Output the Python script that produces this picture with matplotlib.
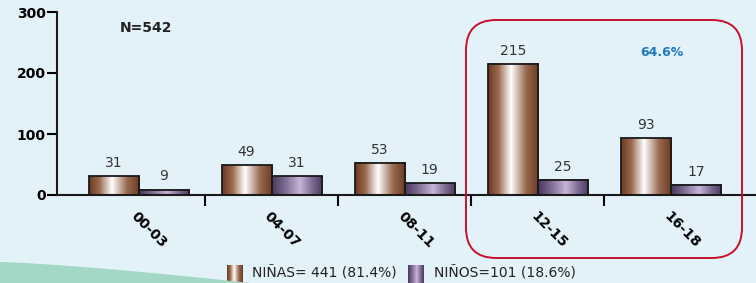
import numpy as np
import matplotlib
matplotlib.use("Agg")
import matplotlib.pyplot as plt
from matplotlib.colors import LinearSegmentedColormap
from matplotlib.patches import Rectangle, FancyBboxPatch, Polygon

categories = ["00-03", "04-07", "08-11", "12-15", "16-18"]
ninas = [31, 49, 53, 215, 93]
ninos = [9, 31, 19, 25, 17]
legend_labels = ["NIÑAS= 441 (81.4%)", "NIÑOS=101 (18.6%)"]
total_label = "N=542"
highlight_label = "64.6%"

BG = "#e3f2f8"
brown_cmap = LinearSegmentedColormap.from_list(
    "brown", [(0, "#6a3a22"), (0.2, "#9a6a50"), (0.45, "#ffffff"), (0.75, "#9a6a50"), (1, "#6a3a22")])
purple_cmap = LinearSegmentedColormap.from_list(
    "purple", [(0, "#4a3a5c"), (0.25, "#7d6a92"), (0.55, "#c8b4d8"), (0.8, "#7d6a92"), (1, "#4a3a5c")])
grad = np.linspace(0, 1, 64).reshape(1, -1)

W, H = 756, 283
fig = plt.figure(figsize=(W / 100, H / 100), dpi=100)
fig.patch.set_facecolor(BG)

# decorative green swoosh bottom-left
xs = np.linspace(0, 250, 60)
ys = 283 - (262 + 21 * (xs / 250) ** 1.3)
pts = [(x / W, y / H) for x, y in zip(xs, ys)] + [(250 / W, 0), (0, 0)]
fig.patches.append(Polygon(pts, closed=True, transform=fig.transFigure,
                           facecolor="#a3d8c6", edgecolor="none", zorder=0))

ax = fig.add_axes([57 / W, 1 - 195 / H, 1 - 57 / W, (195 - 12) / H])
ax.set_facecolor("none")

bw = 0.376
x = np.arange(len(categories))
for i in range(len(categories)):
    for val, x0, cm in ((ninas[i], x[i] - bw, brown_cmap), (ninos[i], x[i], purple_cmap)):
        ax.imshow(grad, cmap=cm, extent=(x0, x0 + bw, 0, val), aspect="auto", zorder=2)
        ax.add_patch(Rectangle((x0, 0), bw, val, fill=False, edgecolor="#1a1a1a", lw=1.3, zorder=3))
        ax.text(x0 + bw / 2, val + 10, str(val), ha="center", va="bottom",
                fontsize=10, color="#333333")

ax.set_xlim(-0.613, 4.64)
ax.set_ylim(0, 300)
ax.spines["top"].set_visible(False)
ax.spines["right"].set_visible(False)
for s in ("left", "bottom"):
    ax.spines[s].set_linewidth(1.5)
    ax.spines[s].set_color("#1a1a1a")

ax.set_yticks([0, 100, 200, 300])
ax.tick_params(axis="y", length=7, width=1.5, labelsize=10, pad=1)
for t in ax.get_yticklabels():
    t.set_fontweight("bold")

ax.set_xticks(x)
ax.set_xticklabels(categories, rotation=-45, ha="left", va="top",
                   rotation_mode="anchor", fontsize=10, fontweight="bold")
ax.tick_params(axis="x", length=0, pad=10)
ax.set_xticks(x[:-1] + 0.5, minor=True)
ax.tick_params(axis="x", which="minor", length=8, width=1.5, direction="out")

fig.text(120 / W, 1 - 28 / H, total_label, fontsize=10, fontweight="bold",
         ha="left", va="center", color="#222222")
fig.text(662 / W, 1 - 53 / H, highlight_label, fontsize=9, fontweight="bold",
         ha="center", va="center", color="#1f78c0")

fig.patches.append(FancyBboxPatch((466 / W, 1 - 258 / H), (742 - 466) / W, (258 - 20) / H,
                                  boxstyle="round,pad=0,rounding_size=0.04",
                                  transform=fig.transFigure, fill=False,
                                  edgecolor="#c8102e", lw=1.4, zorder=5,
                                  mutation_aspect=W / H))

# legend with gradient swatches
for (sx, tx), cm, lab in zip(((227, 252), (408, 434)), (brown_cmap, purple_cmap), legend_labels):
    sax = fig.add_axes([sx / W, 0, 16 / W, 18 / H])
    sax.imshow(grad, cmap=cm, aspect="auto")
    sax.set_axis_off()
    fig.text(tx / W, 1 - 273 / H, lab, fontsize=10, ha="left", va="center", color="#222222")

fig.savefig("out.png", dpi=100, facecolor=BG)
